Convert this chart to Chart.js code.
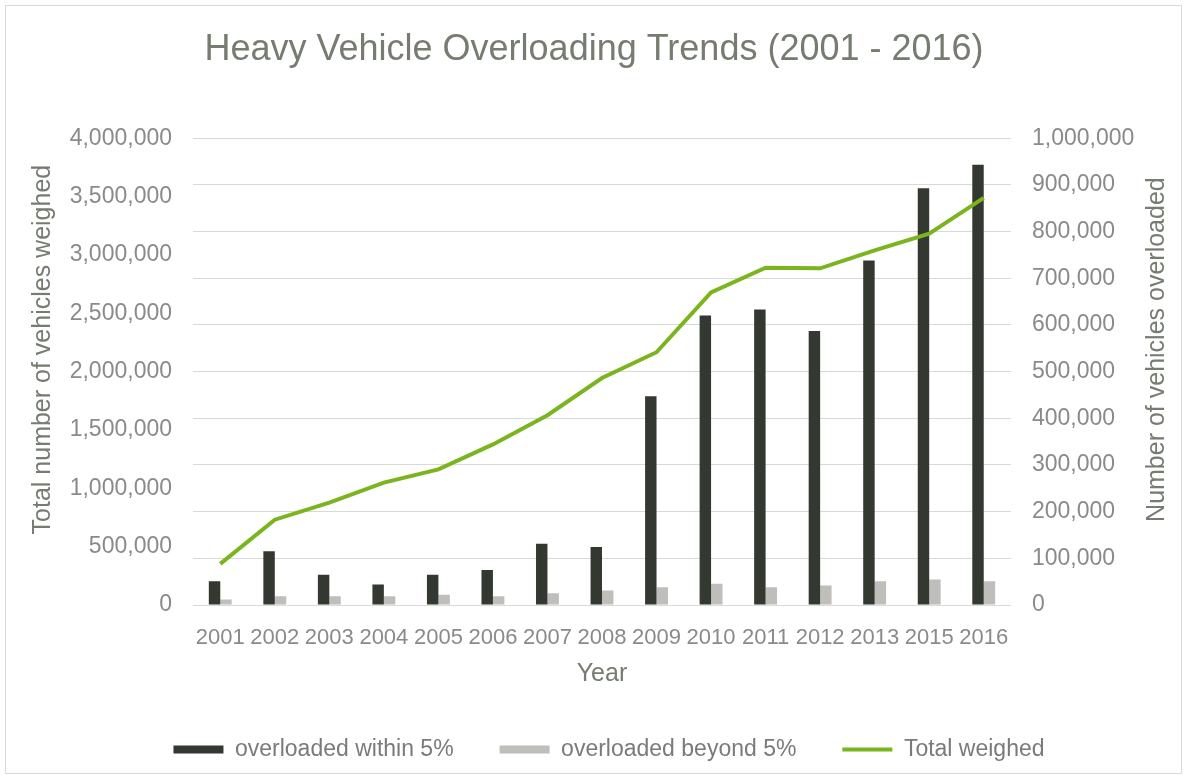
<!DOCTYPE html>
<html>
<head>
<meta charset="utf-8">
<title>Heavy Vehicle Overloading Trends (2001 - 2016)</title>
<script src="https://cdn.jsdelivr.net/npm/chart.js@4/dist/chart.umd.min.js"></script>
<style>
  html, body { margin: 0; padding: 0; background: #ffffff; }
  #wrap { position: relative; width: 1188px; height: 780px; }
  #frame { position: absolute; left: 5px; top: 5px; width: 1177px; height: 769px;
           border: 1px solid #d9d9d9; box-sizing: border-box; pointer-events: none; }
  canvas { display: block; }
</style>
</head>
<body>
<div id="wrap">
  <canvas id="chart" width="1188" height="780"></canvas>
  <div id="frame"></div>
</div>
<script>
// Survey years (no 2014 figures)
const years = ['2001', '2002', '2003', '2004', '2005', '2006', '2007', '2008',
               '2009', '2010', '2011', '2012', '2013', '2015', '2016'];

// Vehicles overloaded by no more than 5% (right axis)
const overloadedWithin5 = [51000, 115000, 65000, 44000, 65000, 75000, 131000, 124000,
                           447000, 620000, 633000, 587000, 738000, 893000, 943000];

// Vehicles overloaded by more than 5% (right axis)
const overloadedBeyond5 = [12000, 18500, 18500, 18500, 22000, 18500, 25000, 31000,
                           38000, 45500, 38000, 42000, 51000, 54700, 51000];

// All vehicles weighed (left axis)
const totalWeighed = [352000, 731000, 878000, 1049000, 1162000, 1376000, 1626000, 1945000,
                      2166000, 2678000, 2890000, 2885000, 3039000, 3181000, 3488000];

// Axis ranges and tick steps
const leftAxisMax = 4000000, leftAxisStep = 500000;
const rightAxisMax = 1000000, rightAxisStep = 100000;

// Axis titles
const leftAxisTitle = 'Total number of vehicles weighed';
const rightAxisTitle = 'Number of vehicles overloaded';

const FONT = "'Liberation Sans', Arial, sans-serif";
const tickColor = '#8a8a8a';
const titleColor = '#767c70';
const fmt = v => Number(v).toLocaleString('en-US');

// Both value-axis titles read bottom-to-top, so they are drawn here
// rather than with the scale's own title (which turns the right one the other way).
const sideTitles = {
  id: 'sideTitles',
  afterDraw(chart) {
    const { ctx, chartArea, scales } = chart;
    const cy = (chartArea.top + chartArea.bottom) / 2 - 22;
    const draw = (text, x) => {
      ctx.save();
      ctx.font = `25px ${FONT}`;
      ctx.fillStyle = titleColor;
      ctx.textAlign = 'center';
      ctx.textBaseline = 'middle';
      ctx.translate(x, cy);
      ctx.rotate(-Math.PI / 2);
      ctx.fillText(text, 0, 0);
      ctx.restore();
    };
    draw(leftAxisTitle, scales.y.left + 43);
    draw(rightAxisTitle, scales.y2.right - 31);
  }
};

// Centre the legend row on its visible items (the row width includes trailing padding)
const legendShift = {
  id: 'legendShift',
  afterLayout(chart) {
    if (chart.legend) { chart.legend.left += 15; chart.legend.right += 15; }
  }
};

new Chart(document.getElementById('chart'), {
  data: {
    labels: years,
    datasets: [
      {
        type: 'bar',
        label: 'overloaded within 5%',
        data: overloadedWithin5,
        yAxisID: 'y2',
        backgroundColor: '#333930',
        borderWidth: 0,
        pointStyle: 'rect',
        categoryPercentage: 0.42,
        barPercentage: 1.0,
        order: 1
      },
      {
        type: 'bar',
        label: 'overloaded beyond 5%',
        data: overloadedBeyond5,
        yAxisID: 'y2',
        backgroundColor: '#bebfbb',
        borderWidth: 0,
        pointStyle: 'rect',
        categoryPercentage: 0.42,
        barPercentage: 1.0,
        order: 1
      },
      {
        type: 'line',
        label: 'Total weighed',
        data: totalWeighed,
        yAxisID: 'y',
        borderColor: '#7ab51f',
        backgroundColor: '#7ab51f',
        borderWidth: 4,
        tension: 0,
        pointRadius: 0,
        pointHoverRadius: 0,
        pointStyle: 'line',
        fill: false,
        order: 0
      }
    ]
  },
  plugins: [sideTitles, legendShift],
  options: {
    responsive: false,
    animation: false,
    layout: { padding: { left: 0, right: 0, top: 0, bottom: 9 } },
    plugins: {
      title: {
        display: true,
        text: 'Heavy Vehicle Overloading Trends (2001 - 2016)',
        color: titleColor,
        font: { family: FONT, size: 36, weight: 'normal' },
        padding: { top: 28, bottom: 67 }
      },
      legend: {
        position: 'bottom',
        labels: {
          usePointStyle: true,
          pointStyleWidth: 50,
          boxHeight: 8,
          padding: 46,
          color: '#7a7a7a',
          font: { family: FONT, size: 23 },
          sort: (a, b) => a.datasetIndex - b.datasetIndex
        }
      },
      tooltip: { enabled: false }
    },
    scales: {
      x: {
        grid: { display: false, drawTicks: false },
        border: { display: false },
        ticks: {
          color: tickColor,
          font: { family: FONT, size: 22 },
          padding: 20,
          maxRotation: 0,
          autoSkip: false
        },
        title: {
          display: true,
          text: 'Year',
          color: titleColor,
          font: { family: FONT, size: 25 },
          padding: { top: 0, bottom: 3 }
        },
        afterFit: s => { s.height = 87; }
      },
      y: {
        position: 'left',
        min: 0,
        max: leftAxisMax,
        grid: { display: false, drawTicks: false },
        border: { display: false },
        ticks: {
          stepSize: leftAxisStep,
          color: tickColor,
          font: { family: FONT, size: 23 },
          padding: 21,
          callback: fmt
        },
        afterFit: s => { s.width = 193; }
      },
      y2: {
        position: 'right',
        min: 0,
        max: rightAxisMax,
        grid: { color: '#d9d9d9', lineWidth: 1, drawTicks: false },
        border: { display: false },
        ticks: {
          stepSize: rightAxisStep,
          color: tickColor,
          font: { family: FONT, size: 23 },
          padding: 21,
          callback: fmt
        },
        afterFit: s => { s.width = 177; }
      }
    }
  }
});
</script>
</body>
</html>
